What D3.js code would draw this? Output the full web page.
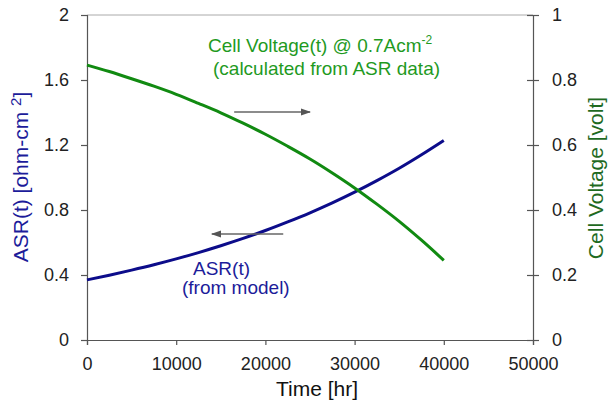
<!DOCTYPE html>
<html><head><meta charset="utf-8">
<script src="https://cdn.jsdelivr.net/npm/d3@7"></script>
<style>body{margin:0;background:#fff}svg{display:block}text{font-family:"Liberation Sans",Arial,sans-serif}</style>
</head><body><svg id="c" width="612" height="405"></svg>
<script>
const timeHr = [0,2500,5000,7500,10000,12500,15000,17500,20000,22500,25000,27500,30000,32500,35000,37500,40000];
const asr = [0.370,0.399,0.430,0.463,0.499,0.538,0.580,0.625,0.674,0.727,0.783,0.844,0.910,0.981,1.057,1.140,1.228];
const voltage = [0.846,0.826,0.804,0.781,0.756,0.728,0.699,0.667,0.633,0.596,0.557,0.514,0.468,0.418,0.365,0.307,0.245];
const xTicks = [0,10000,20000,30000,40000,50000];
const yLeftTicks = [0,0.4,0.8,1.2,1.6,2];
const yRightTicks = [0,0.2,0.4,0.6,0.8,1];

const svg = d3.select("#c");
const L=87,R=533,T=15,B=340;
const x = d3.scaleLinear().domain([0,50000]).range([L,R]);
const yL = d3.scaleLinear().domain([0,2]).range([B,T]);
const yR = d3.scaleLinear().domain([0,1]).range([B,T]);

svg.append("line").attr("x1",L).attr("x2",R).attr("y1",T).attr("y2",T).attr("stroke","#aaa").attr("stroke-width",1);

const axStyle = g=>{g.selectAll("path,line").attr("stroke","#555").attr("stroke-width",1.2);
  g.selectAll("text").attr("fill","#222").style("font-size","18px").style("font-family","Liberation Sans, Arial, sans-serif");};

svg.append("g").attr("transform",`translate(0,${B})`)
  .call(d3.axisBottom(x).tickValues(xTicks).tickFormat(d3.format("d")).tickSizeOuter(0).tickSize(5).tickPadding(12))
  .call(axStyle);
svg.append("g").attr("transform",`translate(${L},0)`)
  .call(d3.axisLeft(yL).tickValues(yLeftTicks).tickFormat(d=>String(d)).tickSizeOuter(0).tickSize(6).tickPadding(12))
  .call(axStyle);
const gr = svg.append("g").attr("transform",`translate(${R},0)`)
  .call(d3.axisRight(yR).tickValues(yRightTicks).tickFormat(d=>String(d)).tickSizeOuter(0).tickSize(6).tickPadding(13))
  .call(axStyle);
gr.selectAll(".tick line").attr("x1",-6);

const lineA = d3.line().x((d,i)=>x(timeHr[i])).y(d=>yL(d)).curve(d3.curveMonotoneX);
const lineV = d3.line().x((d,i)=>x(timeHr[i])).y(d=>yR(d)).curve(d3.curveMonotoneX);
svg.append("path").attr("d",lineA(asr)).attr("fill","none").attr("stroke","#0c0c8a").attr("stroke-width",3);
svg.append("path").attr("d",lineV(voltage)).attr("fill","none").attr("stroke","#118a11").attr("stroke-width",3);

const defs = svg.append("defs");
defs.append("marker").attr("id","ah").attr("viewBox","0 0 10 10").attr("refX",9).attr("refY",5)
  .attr("markerWidth",7).attr("markerHeight",7).attr("orient","auto")
  .append("path").attr("d","M0,1.5 L10,5 L0,8.5 Z").attr("fill","#555");
svg.append("line").attr("x1",x(16500)).attr("x2",x(25000)).attr("y1",112).attr("y2",112)
  .attr("stroke","#666").attr("stroke-width",1.5).attr("marker-end","url(#ah)");
svg.append("line").attr("x1",x(22000)).attr("x2",x(14000)).attr("y1",234).attr("y2",234)
  .attr("stroke","#666").attr("stroke-width",1.5).attr("marker-end","url(#ah)");

const g1 = svg.append("text").attr("x",208).attr("y",52).attr("fill","#1f9a1f").style("font-size","19px");
g1.append("tspan").text("Cell Voltage(t) @ 0.7Acm");
g1.append("tspan").attr("dy",-8).style("font-size","12px").text("-2");
svg.append("text").attr("x",213).attr("y",75).attr("fill","#1f9a1f").style("font-size","19px").text("(calculated from ASR data)");
svg.append("text").attr("x",193).attr("y",275).attr("fill","#1c1c9a").style("font-size","19px").text("ASR(t)");
svg.append("text").attr("x",182).attr("y",294).attr("fill","#1c1c9a").style("font-size","19px").text("(from model)");

svg.append("text").attr("x",317).attr("y",396).attr("text-anchor","middle").attr("fill","#111").style("font-size","21px").text("Time [hr]");
const yl = svg.append("text").attr("transform","translate(28,177) rotate(-90)").attr("text-anchor","middle").attr("fill","#1c1c9a").style("font-size","21px");
yl.append("tspan").text("ASR(t) [ohm-cm ");
yl.append("tspan").attr("dy",-7).style("font-size","15px").text("2");
yl.append("tspan").attr("dy",7).text("]");
svg.append("text").attr("transform","translate(603,178) rotate(-90)").attr("text-anchor","middle").attr("fill","#1f6a1f").style("font-size","21px").text("Cell Voltage [volt]");
</script></body></html>
